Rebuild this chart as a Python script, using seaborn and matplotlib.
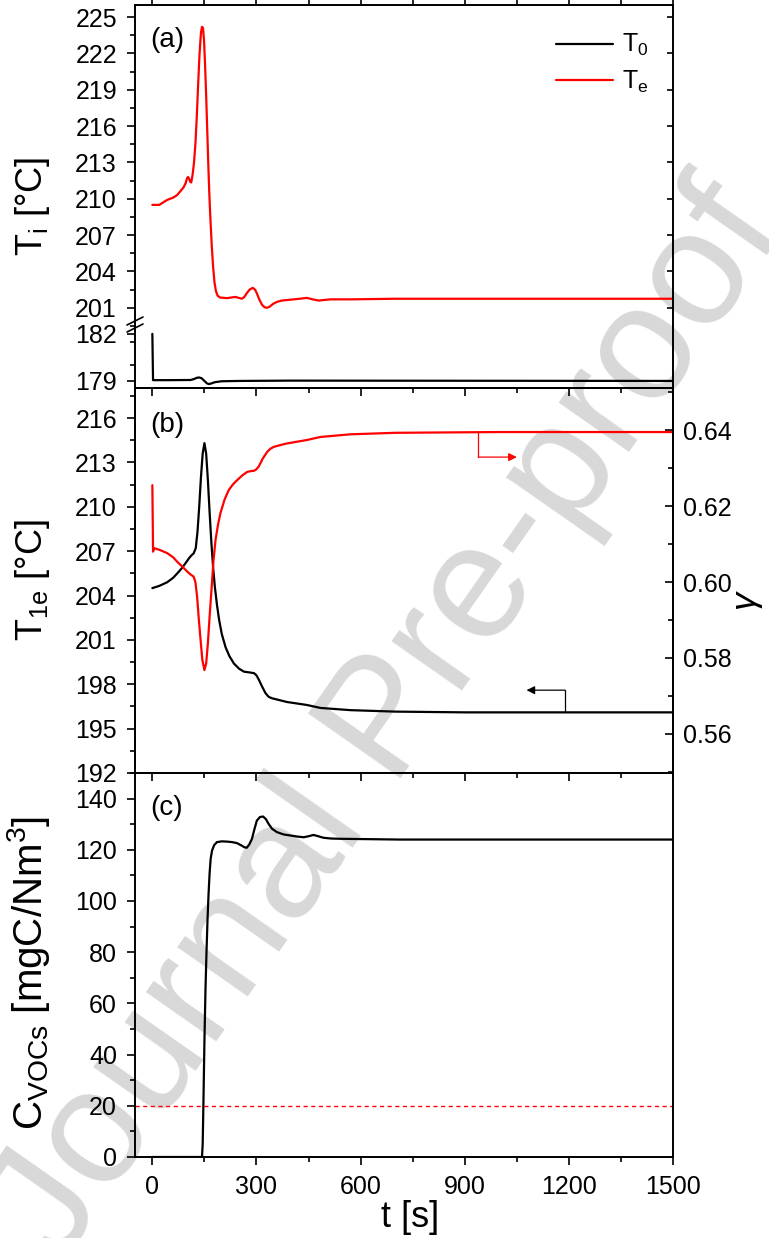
import numpy as np
import pandas as pd
import matplotlib
matplotlib.use("Agg")
import matplotlib.pyplot as plt
import seaborn as sns
from matplotlib.lines import Line2D
from matplotlib.ticker import MultipleLocator

# ---------------- data ----------------
# panel (a): T_e (red) and T_0 (black)
te_t = [0, 20, 42, 60, 71, 80, 90, 96, 100, 103, 106, 109, 112, 116, 120, 124, 128, 132,
        136, 140, 143, 146, 149, 152, 155, 158, 161, 164, 167, 171, 175, 179, 183, 188,
        195, 215, 239, 258, 265, 272, 280, 289, 296, 301, 308, 316, 323, 330, 338, 349,
        360, 373, 390, 407, 425, 445, 462, 479, 495, 513, 570, 700, 900, 1200, 1500]
te_v = [209.5, 209.5, 209.9, 210.1, 210.3, 210.6, 210.95, 211.3, 211.7, 211.8, 211.65,
        211.4, 211.35, 212.0, 213.0, 214.5, 216.8, 219.5, 222.0, 223.7, 224.2, 224.1,
        223.0, 221.0, 218.5, 215.8, 213.0, 210.5, 208.5, 206.2, 204.4, 203.1, 202.4,
        202.0, 201.85, 201.8, 201.9, 201.75, 201.9, 202.2, 202.5, 202.65, 202.5, 202.2,
        201.7, 201.25, 201.05, 201.0, 201.1, 201.35, 201.5, 201.6, 201.65, 201.7,
        201.75, 201.82, 201.7, 201.6, 201.65, 201.7, 201.7, 201.75, 201.75, 201.75,
        201.75]

t0_t = [0, 1, 2, 5, 50, 110, 120, 128, 135, 142, 150, 157, 163, 170, 180, 200, 250,
        400, 1500]
t0_v = [182.0, 180.5, 179.05, 179.05, 179.05, 179.06, 179.12, 179.2, 179.22, 179.17,
        179.0, 178.85, 178.8, 178.84, 178.92, 178.98, 179.0, 179.02, 179.0]

# panel (b): T_1e (black, left) and gamma (red, right)
t1_t = [0, 20, 43, 60, 72, 85, 96, 105, 112, 119, 125, 130, 135, 140, 145, 150, 155,
        160, 165, 170, 175, 180, 186, 192, 200, 211, 222, 235, 250, 264, 280, 293, 300,
        307, 316, 326, 335, 345, 388, 445, 484, 570, 700, 900, 1200, 1500]
t1_v = [204.5, 204.65, 204.9, 205.2, 205.5, 205.85, 206.2, 206.5, 206.7, 206.85, 207.2,
        208.3, 210.0, 212.0, 213.6, 214.3, 213.6, 211.8, 209.6, 207.6, 205.9, 204.6,
        203.4, 202.4, 201.4, 200.5, 199.9, 199.4, 199.05, 198.85, 198.8, 198.75, 198.6,
        198.3, 197.85, 197.4, 197.15, 197.05, 196.8, 196.6, 196.4, 196.25, 196.15,
        196.1, 196.1, 196.1]

g_t = [0, 1, 2, 5, 20, 43, 60, 72, 87, 101, 110, 119, 124, 129, 134, 139, 144, 150, 155,
       160, 165, 171, 176, 182, 189, 196, 208, 220, 232, 244, 258, 273, 283, 293, 300,
       307, 318, 331, 340, 350, 370, 388, 445, 484, 570, 700, 1000, 1500]
g_v = [0.6255, 0.617, 0.608, 0.6089, 0.6085, 0.6076, 0.6065, 0.6053, 0.604, 0.6027,
       0.602, 0.6014, 0.600, 0.5961, 0.590, 0.5847, 0.5795, 0.5768, 0.5785, 0.5839,
       0.591, 0.5988, 0.6055, 0.6111, 0.615, 0.6181, 0.6217, 0.6242, 0.6257, 0.6268,
       0.628, 0.6290, 0.6292, 0.6293, 0.6297, 0.6305, 0.6325, 0.6343, 0.6351, 0.6356,
       0.6361, 0.6365, 0.6374, 0.6382, 0.6389, 0.6393, 0.6395, 0.6395]

# panel (c): C_VOCs
c_t = [0, 143, 145, 147, 150, 153, 156, 159, 162, 165, 168, 172, 178, 186, 200, 215, 230,
       244, 258, 265, 272, 279, 287, 294, 301, 310, 319, 327, 335, 345, 359, 378, 397,
       416, 436, 450, 464, 478, 493, 515, 541, 600, 714, 1000, 1500]
c_v = [0, 0, 5, 20, 45, 65, 80, 93, 103, 111, 116.5, 119.7, 121.8, 123.0, 123.3, 123.2,
       123.0, 122.6, 121.6, 121.0, 120.8, 122.0, 124.3, 128.0, 131.4, 132.8, 133.0,
       132.0, 130.1, 128.2, 126.9, 126.0, 125.6, 125.2, 124.9, 125.3, 125.8, 125.3,
       124.7, 124.4, 124.3, 124.2, 124.0, 124.0, 124.0]
c_limit = 20

x_ticks = [0, 300, 600, 900, 1200, 1500]

# ---------------- style ----------------
sns.set_theme(style="ticks")
plt.rcParams["font.family"] = ["Liberation Sans", "DejaVu Sans"]
plt.rcParams["mathtext.fontset"] = "custom"
plt.rcParams["mathtext.rm"] = "Liberation Sans"
plt.rcParams["mathtext.it"] = "Liberation Sans:italic"
plt.rcParams["mathtext.default"] = "regular"
plt.rcParams["axes.edgecolor"] = "black"
plt.rcParams["axes.linewidth"] = 1.4
plt.rcParams["xtick.color"] = "black"
plt.rcParams["ytick.color"] = "black"
plt.rcParams["text.color"] = "black"
plt.rcParams["axes.labelcolor"] = "black"

TICK_FS = 18
LAB_FS = 26
PANEL_FS = 20
RED = "#ff0000"

fig = plt.figure(figsize=(7.69, 12.38), dpi=100)
fig.patch.set_facecolor("white")
H = 1238.0
L = 135 / 769.0
W = (673 - 135) / 769.0


def ax_at(top_px, bot_px):
    return fig.add_axes([L, 1 - bot_px / H, W, (bot_px - top_px) / H])


ax_au = ax_at(5, 326)
ax_al = ax_at(326, 388)
ax_b = ax_at(388, 773)
ax_c = ax_at(773, 1157)

# watermark
fig.text(0.505, 0.415, "Journal Pre-proof", rotation=55, fontsize=118,
         color="#d8d8d8", ha="center", va="center", zorder=-5)

for ax in (ax_au, ax_al, ax_b, ax_c):
    ax.set_facecolor("none")
    ax.set_xlim(-50, 1500)
    ax.xaxis.set_major_locator(MultipleLocator(300))
    ax.xaxis.set_minor_locator(MultipleLocator(150))
    ax.tick_params(axis="both", which="major", direction="out", length=6, width=1.2,
                   labelsize=TICK_FS, pad=7)
    ax.tick_params(axis="both", which="minor", direction="out", length=3.5, width=1.2)
    ax.tick_params(axis="x", labelbottom=False)

# ---------- panel (a) ----------
sns.lineplot(x=te_t, y=te_v, ax=ax_au, color=RED, lw=1.6, sort=False)
sns.lineplot(x=t0_t, y=t0_v, ax=ax_al, color="black", lw=1.6, sort=False)
ax_au.set_ylim(199.5, 226.0)
ax_au.set_yticks(np.arange(201, 226, 3))
ax_au.yaxis.set_minor_locator(MultipleLocator(1.5))
ax_au.spines["bottom"].set_visible(False)
ax_au.tick_params(axis="x", which="both", bottom=False, top=True, length=3.5)
sec = ax_au.secondary_yaxis("right")
sec.set_yticks(np.arange(201, 226, 3))
sec.tick_params(direction="in", length=4, width=1.2, labelright=False)
sec.spines["right"].set_visible(False)

ax_al.set_ylim(178.55, 182.5)
ax_al.set_yticks([179, 182])
ax_al.yaxis.set_minor_locator(MultipleLocator(1.5))
ax_al.spines["top"].set_visible(False)
ax_al.set_ylabel("")
ax_al.set_xlabel("")

ax_au.set_xlabel("")
ax_au.set_ylabel("T$_{i}$ [°C]", fontsize=LAB_FS)
ax_au.yaxis.set_label_coords(-0.155, 0.371)

ax_au.text(0.028, 0.891, "(a)", fontsize=PANEL_FS, ha="left", va="center",
           transform=ax_au.transAxes)

handles = [Line2D([], [], color="black", lw=1.6), Line2D([], [], color=RED, lw=1.6)]
ax_au.legend(handles, ["T$_0$", "T$_e$"], loc="upper left",
             bbox_to_anchor=(0.7825, 0.915), frameon=False, fontsize=18,
             handlelength=2.3, handletextpad=0.35, labelspacing=0.4, borderpad=0,
             borderaxespad=0)

# break marks
for yc in (321, 328):
    fig.add_artist(Line2D([127 / 769.0, 143 / 769.0],
                          [1 - (yc + 4) / H, 1 - (yc - 4) / H],
                          color="black", lw=1.2, transform=fig.transFigure))

# ---------- panel (b) ----------
sns.lineplot(x=t1_t, y=t1_v, ax=ax_b, color="black", lw=1.6, sort=False)
ax_b.set_ylim(192, 218.03)
ax_b.set_yticks(np.arange(192, 217, 3))
ax_b.yaxis.set_minor_locator(MultipleLocator(1.5))
ax_b.set_xlabel("")
ax_b.set_ylabel("T$_{1e}$ [°C]", fontsize=LAB_FS)
ax_b.yaxis.set_label_coords(-0.155, 0.5)

ax_b2 = ax_b.twinx()
ax_b2.set_facecolor("none")
sns.lineplot(x=g_t, y=g_v, ax=ax_b2, color=RED, lw=1.6, sort=False)
ax_b2.set_ylim(0.5497, 0.6511)
ax_b2.set_yticks([0.56, 0.58, 0.60, 0.62, 0.64])
ax_b2.yaxis.set_minor_locator(MultipleLocator(0.01))
ax_b2.tick_params(axis="y", which="major", direction="in", length=6, width=1.2,
                  labelsize=TICK_FS, pad=7)
ax_b2.tick_params(axis="y", which="minor", direction="in", length=3.5, width=1.2)
ax_b2.set_xlabel("")
ax_b2.set_ylabel("γ", fontsize=LAB_FS, rotation=90, fontstyle="italic")
ax_b2.yaxis.set_label_coords(1.10, 0.449)

ax_b.text(0.028, 0.904, "(b)", fontsize=PANEL_FS, ha="left", va="center",
          transform=ax_b.transAxes)

# pointer arrows
ax_b2.plot([939, 939], [0.6395, 0.6329], color=RED, lw=0.9)
ax_b2.annotate("", xy=(1050, 0.6329), xytext=(939, 0.6329),
               arrowprops=dict(arrowstyle="-|>", color=RED, lw=0.9,
                               mutation_scale=12, shrinkA=0, shrinkB=0))
ax_b.plot([1189, 1189], [196.1, 197.6], color="black", lw=0.9)
ax_b.annotate("", xy=(1078, 197.6), xytext=(1189, 197.6),
              arrowprops=dict(arrowstyle="-|>", color="black", lw=0.9,
                              mutation_scale=12, shrinkA=0, shrinkB=0))

# ---------- panel (c) ----------
sns.lineplot(x=c_t, y=c_v, ax=ax_c, color="black", lw=1.6, sort=False)
ax_c.axhline(c_limit, color=RED, lw=1.0, ls=(0, (3, 2.5)))
ax_c.set_ylim(0, 150)
ax_c.set_yticks(np.arange(0, 141, 20))
ax_c.yaxis.set_minor_locator(MultipleLocator(10))
ax_c.set_xticks(x_ticks)
ax_c.tick_params(axis="x", labelbottom=True)
ax_c.set_xlabel("")
ax_c.set_ylabel("C$_{VOCs}$ [mgC/Nm$^{3}$]", fontsize=29)
ax_c.yaxis.set_label_coords(-0.155, 0.48)
ax_c.text(0.028, 0.909, "(c)", fontsize=PANEL_FS, ha="left", va="center",
          transform=ax_c.transAxes)

fig.text(410 / 769.0, 1 - 1200 / H, "t [s]", fontsize=LAB_FS, ha="center", va="top")

fig.savefig("out.png", dpi=100, facecolor="white")
